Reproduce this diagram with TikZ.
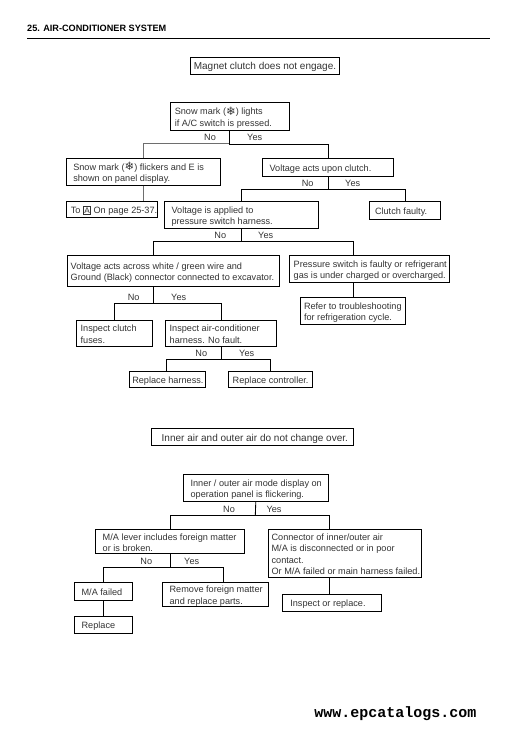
\documentclass[tikz,border=0pt]{standalone}
\usepackage{fontspec}
\setmainfont{Liberation Sans}
\newfontfamily\symf{DejaVu Sans}
\newfontfamily\monof{Liberation Mono}
\definecolor{ink}{HTML}{333333}
\definecolor{greyline}{HTML}{6E6E6E}
\newcommand{\snow}{\smash{\raisebox{-0.5pt}{\symf\fontsize{11.5}{11}\selectfont ❄}}}
\newcommand{\boxA}{\smash{\setlength{\fboxsep}{0.6pt}\setlength{\fboxrule}{0.7pt}\fbox{\fontsize{8.2}{8}\selectfont A}}}
\newlength{\bxw}
\newcommand{\bx}[7]{%
  \pgfmathsetlength{\bxw}{#5-#3}%
  \node[bxstyle,minimum width=\bxw,minimum height={(#6-#4)*1pt}] (#1) at ({(#3+#5)/2},{(#4+#6)/2})
    {\hbox to \bxw{\hskip #2pt\smash{\lower 4pt\hbox{\begin{tabular}{@{}l@{}}#7\end{tabular}}}\hss}};}
\tikzset{
  bxstyle/.style={draw=black,line width=0.85pt,inner sep=0pt,text=ink,font=\fontsize{9.15}{11}\selectfont},
  lab/.style={inner sep=0pt,text=ink,font=\fontsize{9.15}{11}\selectfont},
  conn/.style={draw=black,line width=0.85pt},
  connG/.style={draw=greyline,line width=1pt}
}
\renewcommand{\arraystretch}{1.04}
\begin{document}
\begin{tikzpicture}[x=1pt,y=-1pt]
\useasboundingbox (0,0) rectangle (527,730);
\node[anchor=west,inner sep=0pt,font=\bfseries\fontsize{9.15}{9}\selectfont] (hd) at (27,28) {25. AIR-CONDITIONER SYSTEM};
\coordinate (rl) at (27,38.3);
\coordinate (rr) at (490,38.3);
\draw[line width=1pt] (rl) -- (rr);
\node[anchor=east,inner sep=0pt,font=\monof\bfseries\fontsize{15}{14}\selectfont] (ft) at (476.5,713.5) {www.epcatalogs.com};

\bx{mag}{3.5}{190.3}{57.3}{339.3}{74.3}{\fontsize{10}{12}\selectfont Magnet clutch does not engage.}
\bx{sa}{4.5}{170.3}{102.3}{289.3}{130.3}{Snow mark (\snow) lights\\if A/C switch is pressed.}
\bx{sb}{7}{66.3}{158.3}{220.3}{185.3}{Snow mark (\snow) flickers and E is\\shown on panel display.}
\bx{vc}{7.3}{262.3}{158.3}{393.7}{176.3}{Voltage acts upon clutch.}
\bx{cf}{5.7}{369.3}{201.3}{440.7}{219.3}{Clutch faulty.}
\bx{va}{7.3}{164.3}{201.3}{318.3}{228.3}{Voltage is applied to\\pressure switch harness.}
\bx{toa}{4.5}{66.3}{201.3}{157.7}{217.3}{To \boxA{} On page 25-37.}
\bx{vw}{3.4}{67.3}{255.3}{279}{286.3}{Voltage acts across white / green wire and\\Ground (Black) connector connected to excavator.}
\bx{ps}{4.4}{289.3}{255.3}{449.3}{282.3}{Pressure switch is faulty or refrigerant\\gas is under charged or overcharged.}
\bx{rf}{3.7}{300.3}{297.3}{405.7}{324.3}{Refer to troubleshooting\\for refrigeration cycle.}
\bx{ic}{4.4}{76.3}{320.3}{152.3}{346.3}{Inspect clutch\\fuses.}
\bx{ih}{4.4}{165.3}{320.3}{276.7}{346.3}{Inspect air-conditioner\\harness. No fault.}
\bx{rh}{3}{129.3}{371}{205.3}{387.3}{Replace harness.}
\bx{rc}{4.4}{228.3}{371}{312.3}{387.3}{Replace controller.}

\bx{inn}{10.4}{151.3}{428.3}{353.7}{445.7}{\fontsize{10}{12}\selectfont Inner air and outer air do not change over.}
\bx{io}{7.3}{183.3}{474.3}{328.3}{501.3}{Inner / outer air mode display on\\operation panel is flickering.}
\bx{ml}{7}{95.7}{529.7}{244.3}{553.7}{M/A lever includes foreign matter\\or is broken.}
\bx{co}{3.3}{268.3}{529.7}{421.7}{577.3}{Connector of inner/outer air\\M/A is disconnected or in poor\\contact.\\Or M/A failed or main harness failed.}
\bx{mf}{7.3}{74.3}{582.7}{132.3}{600}{M/A failed}
\bx{rp}{7.3}{74.3}{616}{132.3}{633.3}{Replace}
\bx{rm}{7.3}{162.3}{582.7}{268.7}{606.3}{Remove foreign matter\\and replace parts.}
\bx{ir}{8}{282.3}{594.3}{381.7}{611.3}{Inspect or replace.}

% junctions
\coordinate (j1) at (229.8,144);
\coordinate (j2) at (328,189.3);
\coordinate (j3) at (241.3,241.7);
\coordinate (j3l) at (153.3,241.7);
\coordinate (j3r) at (353.7,241.7);
\coordinate (j4) at (153.3,303.3);
\coordinate (j4l) at (114.3,303.3);
\coordinate (j4r) at (221.3,303.3);
\coordinate (j5) at (221.3,359.3);
\coordinate (j5l) at (166.3,359.3);
\coordinate (j5r) at (270.3,359.3);
\coordinate (j6) at (255.3,515.3);
\coordinate (j6l) at (170.3,515.3);
\coordinate (j6r) at (329.3,515.3);
\coordinate (j7) at (170.3,567.3);
\coordinate (j7l) at (103.7,567.3);
\coordinate (j7r) at (223.3,567.3);

% first chart
\draw[connG] (sa.south |- j1) -| (sb.north);
\draw[connG] (sb.south) -- (toa.north -| sb.south);
\draw[conn] (sa.south) -- (j1) -| (vc.north);
\draw[conn] (vc.south) -- (j2);
\draw[conn] (j2) -| (va.north);
\draw[conn] (j2) -| (cf.north);
\draw[conn] (va.south) -- (j3);
\draw[conn] (j3) -- (j3l) -- (j3l |- vw.north);
\draw[conn] (j3) -- (j3r) -- (j3r |- ps.north);
\draw[conn] (j3r |- ps.south) -- (j3r |- rf.north);
\draw[conn] (j4 |- vw.south) -- (j4);
\draw[conn] (j4) -- (j4l) -- (j4l |- ic.north);
\draw[conn] (j4) -- (j4r) -- (j4r |- ih.north);
\draw[conn] (j5 |- ih.south) -- (j5);
\draw[conn] (j5) -- (j5l) -- (j5l |- rh.north);
\draw[conn] (j5) -- (j5r) -- (j5r |- rc.north);

% second chart
\draw[conn] (io.south) -- (j6);
\draw[conn] (j6) -- (j6l) -- (j6l |- ml.north);
\draw[conn] (j6) -- (j6r) -- (j6r |- co.north);
\draw[conn] (j6r |- co.south) -- (j6r |- ir.north);
\draw[conn] (j7 |- ml.south) -- (j7);
\draw[conn] (j7) -- (j7l) -- (j7l |- mf.north);
\draw[conn] (j7) -- (j7r) -- (j7r |- rm.north);
\draw[conn] (j7l |- mf.south) -- (j7l |- rp.north);

% labels
\node[lab] (n1) at (210,137.7) {No};   \node[lab] (y1) at (254.7,137.7) {Yes};
\node[lab] (n2) at (307.7,183.7) {No}; \node[lab] (y2) at (352.7,183.7) {Yes};
\node[lab] (n3) at (220.3,235.7) {No}; \node[lab] (y3) at (265.7,235.7) {Yes};
\node[lab] (n4) at (133.7,297.7) {No}; \node[lab] (y4) at (178.7,297.7) {Yes};
\node[lab] (n5) at (201.3,353.7) {No}; \node[lab] (y5) at (246.7,353.7) {Yes};
\node[lab] (n6) at (229,509.3) {No};   \node[lab] (y6) at (274,509.3) {Yes};
\node[lab] (n7) at (146.3,561.7) {No}; \node[lab] (y7) at (191.7,561.7) {Yes};
\end{tikzpicture}
\end{document}
